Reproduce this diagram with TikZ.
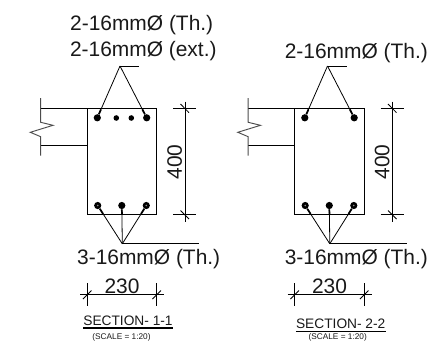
\documentclass[tikz,border=0pt]{standalone}
\usepackage{fontspec}
\usetikzlibrary{calc}
\setmainfont{Liberation Sans}
\tikzset{
  px/.style={x=0.75pt,y=-0.75pt},
  ln/.style={draw=black,line width=0.75pt},
  thin ln/.style={draw=black,line width=0.6pt},
  tail/.style={draw=black,line width=1.3pt},
  breakl/.style={draw=black!70,line width=0.7pt},
  big/.style={font=\fontsize{15.7}{18}\selectfont,inner sep=0pt,anchor=base,text=black!90},
  title/.style={font=\fontsize{10.3}{12}\selectfont,inner sep=0pt,anchor=base,text=black!90},
  scalet/.style={font=\fontsize{6.2}{7}\selectfont,inner sep=0pt,anchor=base,text=black!90},
  barL/.style={circle,fill=black,draw=none,minimum size=5.4pt,inner sep=0pt},
  barS/.style={circle,fill=black,draw=none,minimum size=4.2pt,inner sep=0pt},
  eye/.style={circle,fill=black!45,draw=none,minimum size=1.3pt,inner sep=0pt},
  column/.style={draw=black,line width=0.85pt,minimum width=52pt,minimum height=79.8pt,inner sep=0pt}
}
% #1 suffix
\newcommand{\secframe}[1]{%
  \node[column] (col#1) at (122,161.5) {};
  % beam and break line
  \coordinate (bt#1) at (40.7,108.3);
  \coordinate (bb#1) at (40.7,145.3);
  \draw[ln] (bt#1) -- (col#1.north west |- bt#1);
  \draw[ln] (bb#1) -- (col#1.west |- bb#1);
  \draw[breakl] (40.7,98) -- (40.7,122.3) -- (53,125.3) -- (30.3,132.3) -- (40.7,136.7) -- (40.7,155.5);
  % height dimension
  \coordinate (dt#1) at (185,101.7);
  \coordinate (db#1) at (185,222);
  \draw[thin ln] (dt#1) -- (db#1);
  \draw[thin ln] (173,108.3) -- (196,108.3);
  \draw[thin ln] (173,214.7) -- (196,214.7);
  \draw[thin ln] (180.5,104) -- (189,112.7);
  \draw[thin ln] (180.5,210.5) -- (189,219);
  \node[big,rotate=90,anchor=center] (h#1) at (174.7,162) {400};
  % width dimension
  \coordinate (wl#1) at (80,294.7);
  \coordinate (wr#1) at (164.3,294.7);
  \draw[thin ln] (wl#1) -- (wr#1);
  \draw[thin ln] (87.3,283) -- (87.3,305.7);
  \draw[thin ln] (156.7,283) -- (156.7,305.7);
  \draw[thin ln] (83,299) -- (91.5,290.5);
  \draw[thin ln] (152.5,299) -- (161,290.5);
  \node[big] (w#1) at (122,293.3) {230};
  % bottom bars and leader
  \node[barL] (b1#1) at (97.7,205.5) {};
  \node[barL] (b2#1) at (121.8,205.5) {};
  \node[barL] (b3#1) at (146.3,205.5) {};
  \node[eye] (e1#1) at (b1#1) {};
  \node[eye] (e3#1) at (b3#1) {};
  \coordinate (ba#1) at (122.3,243.8);
  \coordinate (be#1) at (199,243.8);
  \draw[thin ln] (b1#1) -- (ba#1);
  \draw[thin ln] (b2#1) -- (ba#1);
  \draw[thin ln] (b3#1) -- (ba#1);
  \draw[tail] (b1#1) -- ($(b1#1)!0.22!(ba#1)$);
  \draw[tail] (b2#1) -- ($(b2#1)!0.22!(ba#1)$);
  \draw[tail] (b3#1) -- ($(b3#1)!0.22!(ba#1)$);
  \draw[ln] (ba#1) -- (be#1);
  % top bars and leader
  \node[barL] (t1#1) at (97.3,117.8) {};
  \node[barL] (t2#1) at (146.7,117.8) {};
  \coordinate (ta#1) at (120,66);
  \coordinate (te#1) at (139.3,66);
  \draw[thin ln] (t1#1) -- (ta#1);
  \draw[thin ln] (t2#1) -- (ta#1);
  \draw[tail] (t1#1) -- ($(t1#1)!0.16!(ta#1)$);
  \draw[tail] (t2#1) -- ($(t2#1)!0.16!(ta#1)$);
  \draw[ln] (ta#1) -- (te#1);
}
\begin{document}
\begin{tikzpicture}[px]
\useasboundingbox (0,0) rectangle (436,343);
\begin{scope}
  \secframe{A}
  \node[barS] (s1A) at (116.3,118) {};
  \node[barS] (s2A) at (131.3,118) {};
  \node[big] (t1) at (141.7,30.7) {2-16mmØ (Th.)};
  \node[big] (t2) at (143.3,56) {2-16mmØ (ext.)};
  \node[big] (t3) at (148.7,264) {3-16mmØ (Th.)};
  \node[title] (t4) at (128,325) {SECTION- 1-1};
  \node[scalet] (t5) at (121.5,339) {(SCALE = 1:20)};
\end{scope}
\draw[line width=1pt] ($(t4.base west)+(0,3)$) -- ($(t4.base east)+(0,3)$);
\begin{scope}[shift={(207.5,0)}]
  \secframe{B}
\end{scope}
\node[big] (t6) at (356.3,58.3) {2-16mmØ (Th.)};
\node[big] (t7) at (356.3,264) {3-16mmØ (Th.)};
\node[title] (t8) at (340.7,328.3) {SECTION- 2-2};
\node[scalet] (t9) at (337.7,339.3) {(SCALE = 1:20)};
\draw[line width=1pt] ($(t8.base west)+(0,3)$) -- ($(t8.base east)+(0,3)$);
\end{tikzpicture}
\end{document}
